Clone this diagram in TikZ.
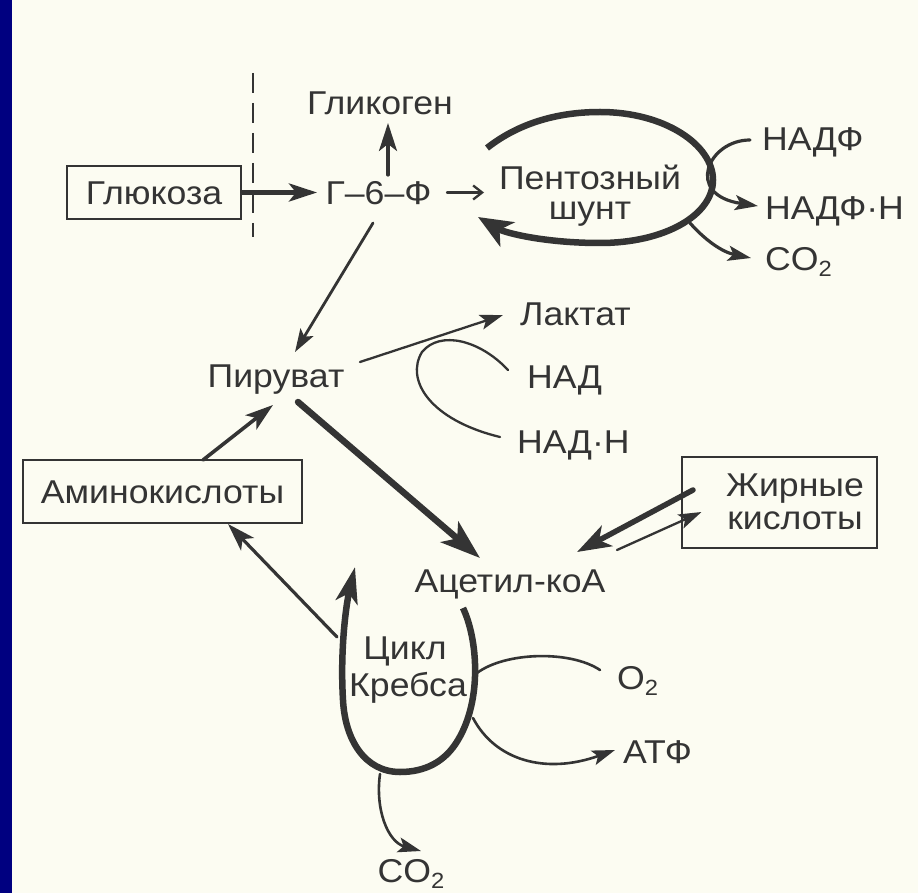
\documentclass[tikz,border=0pt]{standalone}
\usepackage{fontspec}
\setmainfont[FakeStretch=1.08]{Liberation Sans}
\usetikzlibrary{arrows.meta,calc}
\definecolor{bg}{RGB}{252,252,242}
\definecolor{ink}{RGB}{52,52,52}
\definecolor{frame}{RGB}{0,0,128}
\begin{document}
\begin{tikzpicture}[x=1pt,y=-1pt,
  lbl/.style={inner sep=0pt, text height=23.6pt, text depth=0pt,
    font=\fontsize{33}{38}\selectfont, text=ink},
  boxed/.style={draw=ink, line width=2.5pt, inner sep=0pt},
  conn/.style={draw=ink, line cap=round},
  thin/.style={conn, line width=2.3pt},
  mid/.style={conn, line width=3.2pt},
  heavy/.style={conn, line width=6.5pt},
  tipS/.style={-{Stealth[length=23pt,width=15pt,inset=5pt]}},
  tipM/.style={-{Stealth[length=28pt,width=18pt,inset=7pt]}},
  tipL/.style={-{Stealth[length=40pt,width=27pt,inset=10pt]}}]
\useasboundingbox (0,0) rectangle (918,893);
\fill[bg] (0,0) rectangle (918,893);
\fill[frame] (0,0) rectangle (12,893);

% texts
\node[lbl] (glyc) at (380,103) {Гликоген};
\node[lbl, boxed, minimum width=174pt, minimum height=53pt] (glubox) at (154,192.5) {Глюкоза};
\node[lbl] (g6f) at (378.5,192.5) {Г–6–Ф};
\node[lbl] (pent1) at (590,177.5) {Пентозный};
\node[lbl] (pent2) at (590,208) {шунт};
\node[lbl, anchor=west] (nadp) at (762,139) {НАДФ};
\node[lbl, anchor=west] (nadph) at (765,208) {НАДФ·Н};
\node[lbl, anchor=west] (co2a) at (765,259) {CO\raisebox{-6pt}{\fontsize{22}{22}\selectfont 2}};
\node[lbl, anchor=west] (lact) at (520,314) {Лактат};
\node[lbl, anchor=west] (nad) at (527,377) {НАД};
\node[lbl, anchor=west] (nadh) at (517,442) {НАД·Н};
\node[lbl] (pyr) at (276,376) {Пируват};
\node[lbl, boxed, minimum width=279pt, minimum height=63pt] (aminobox) at (162.5,491.5) {Аминокислоты};
\node[boxed, minimum width=195pt, minimum height=91pt] (fabox) at (779.5,502.5) {};
\node[lbl] (fa1) at (795,485) {Жирные};
\node[lbl] (fa2) at (795,518) {кислоты};
\node[lbl] (acoa) at (510,581) {Ацетил-коА};
\node[lbl] (cyc1) at (405,648) {Цикл};
\node[lbl] (cyc2) at (408,685) {Кребса};
\node[lbl, anchor=west] (o2) at (617,678) {O\raisebox{-6pt}{\fontsize{22}{22}\selectfont 2}};
\node[lbl, anchor=west] (atp) at (623,752) {АТФ};
\node[lbl] (co2b) at (411,871) {CO\raisebox{-6pt}{\fontsize{22}{22}\selectfont 2}};

% membrane (dashed)
\coordinate (memtop) at (253,73);
\coordinate (membot) at (253,237);
\draw[ink, line width=2pt, dash pattern=on 20pt off 10pt] (memtop) -- (membot);

% glucose -> G6F
\draw[conn, line width=4.5pt, tipM] (glubox.east) -- ($(g6f)+(-61.5,0)$);
% G6F -> glycogen
\draw[mid, tipM] ($(g6f)+(9.5,-17.5)$) -- ($(glyc)+(8,20)$);
% G6F -> pentose shunt
\draw[thin, -{Straight Barb[length=9pt,width=14pt]}] ($(g6f)+(68.5,0)$) -- ($(pent1)+(-106,15)$);
% G6F -> pyruvate
\draw[conn, line width=2.8pt, tipS] ($(g6f)+(-5.5,30.5)$) -- ($(pyr)+(19,-24)$);

% pentose shunt loop
\draw[heavy, line cap=butt, -{Stealth[length=34pt,width=28pt,inset=9pt]}]
  (487,148) .. controls (520,122) and (560,112) .. (600,112)
  .. controls (665,112) and (713,145) .. (713,180)
  .. controls (713,215) and (665,243) .. (600,243)
  .. controls (545,243) and (505,233) .. (478,217);
% NADP -> NADPH
\draw[mid, tipS] ($(nadp.west)+(-12,1)$) .. controls (708,140) and (684,195) .. ($(nadph.west)+(-7,-2)$);
% shunt -> CO2
\draw[mid, tipS] (690,223) .. controls (705,240) and (722,252) .. ($(co2a.west)+(-14,-1)$);

% pyruvate -> lactate
\draw[thin, tipS] ($(pyr)+(84,-14)$) -- ($(lact.west)+(-17,1)$);
% NAD / NADH
\draw[thin] ($(nad.west)+(-19,-7)$) .. controls (480,340) and (440,330) .. (422,352)
  .. controls (405,380) and (430,420) .. ($(nadh.west)+(-17,-5)$);

% pyruvate -> acetyl-CoA
\draw[heavy, tipL] ($(pyr)+(22,26)$) -- ($(acoa)+(-30,-23)$);
% amino acids -> pyruvate
\draw[conn, line width=3.6pt, tipM] ($(aminobox)+(40.5,-31.5)$) -- ($(pyr)+(-3,29)$);
% Krebs -> amino acids
\coordinate (krebsout) at (337,637);
\draw[mid, tipM] (krebsout) -- ($(aminobox)+(65.5,32.5)$);
% fatty acids <-> acetyl-CoA
\draw[conn, line width=5.5pt, -{Stealth[length=34pt,width=23pt,inset=9pt]}] ($(fabox)+(-86.5,-12.5)$) -- ($(acoa)+(67,-29)$);
\draw[thin, tipS] ($(acoa)+(107,-31)$) -- ($(fabox)+(-78,9.5)$);

% Krebs cycle loop
\draw[heavy, line cap=butt, -{Stealth[length=36pt,width=22pt,inset=9pt]}]
  (463,608) .. controls (478,640) and (482,700) .. (458,740)
  .. controls (445,762) and (425,772) .. (400,772)
  .. controls (365,772) and (345,740) .. (343,700)
  .. controls (340,650) and (346,605) .. (355,567);
% O2
\draw[conn, line width=2.6pt] (477,673) .. controls (505,652) and (570,650) .. ($(o2.west)+(-17,-8)$);
% ATP
\draw[conn, line width=2.6pt, tipS] (473,718) .. controls (495,760) and (545,775) .. ($(atp.west)+(-8,-2)$);
% CO2 bottom
\draw[conn, line width=2.6pt, tipS] (380,774) .. controls (375,810) and (388,842) .. ($(co2b)+(10,-20)$);
\end{tikzpicture}
\end{document}
